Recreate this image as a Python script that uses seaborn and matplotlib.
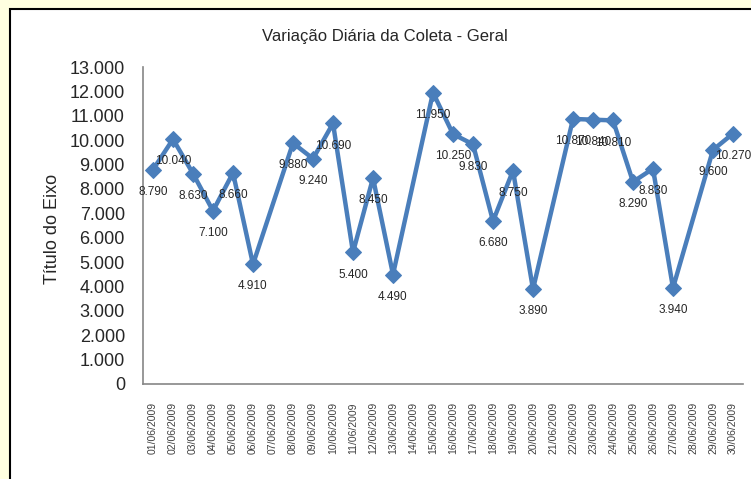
import numpy as np
import pandas as pd
import matplotlib
matplotlib.use("Agg")
import matplotlib.pyplot as plt
from matplotlib.patches import Rectangle
from matplotlib.ticker import FuncFormatter
import seaborn as sns

# Dados (coleta diaria, junho/2009) - domingos sem coleta
datas = [f"{d:02d}/06/2009" for d in range(1, 31)]
valores = [8790, 10040, 8630, 7100, 8660, 4910, None,
           9880, 9240, 10690, 5400, 8450, 4490, None,
           11950, 10250, 9830, 6680, 8750, 3890, None,
           10870, 10840, 10810, 8290, 8830, 3940, None,
           9600, 10270]

titulo = "Variação Diária da Coleta - Geral"
titulo_eixo_y = "Título do Eixo"

sns.set_style("white")
plt.rcParams['font.family'] = ['Liberation Sans', 'DejaVu Sans']

df = pd.DataFrame({"data": datas, "valor": valores})
df["pos"] = np.arange(len(df))
df_ok = df.dropna(subset=["valor"])

W, H = 751, 479
fig = plt.figure(figsize=(W / 100, H / 100), dpi=100)
fig.patch.set_facecolor("#FFFFE0")
# area branca do grafico com borda preta (atras dos eixos)
fig.patches.append(Rectangle((10 / W, -0.1), 1.2, 1.1 - 9 / H, transform=fig.transFigure,
                             facecolor="white", edgecolor="black", linewidth=1.5, zorder=-10))

ax = fig.add_axes([143 / W, 1 - 384 / H, 600 / W, (384 - 67) / H])
ax.set_facecolor("none")

cor = "#4A7EBB"
sns.lineplot(data=df_ok, x="pos", y="valor", ax=ax, color=cor, linewidth=3.2,
             marker="D", markersize=8, markeredgecolor=cor, markerfacecolor=cor)

# rotulos de dados abaixo dos pontos
for _, r in df_ok.iterrows():
    ax.annotate(f"{int(r['valor']):,}".replace(",", "."), (r["pos"], r["valor"]),
                xytext=(0, -16), textcoords="offset points", ha="center", va="center",
                fontsize=8.5, color="#262626")

ax.set_xlim(-0.5, len(datas) - 0.5)
ax.set_ylim(0, 13000)
ax.set_yticks(np.arange(0, 13001, 1000))
ax.yaxis.set_major_formatter(FuncFormatter(lambda v, p: f"{int(v):,}".replace(",", ".")))
ax.set_xticks(df["pos"])
ax.set_xticklabels(datas, rotation=90, fontsize=7.5, color="#404040")
ax.tick_params(axis="y", labelsize=13, length=0, pad=13)
ax.tick_params(axis="x", length=0, pad=13)

for s in ["top", "right"]:
    ax.spines[s].set_visible(False)
for s in ["left", "bottom"]:
    ax.spines[s].set_color("#868686")
    ax.spines[s].set_linewidth(1.2)

ax.set_xlabel("")
ax.set_ylabel(titulo_eixo_y, fontsize=13)
ax.yaxis.set_label_coords(-0.137, 0.49)

fig.text(385 / W, 1 - 37 / H, titulo, ha="center", va="center", fontsize=12)

fig.savefig("out.png", dpi=100, facecolor=fig.get_facecolor())
